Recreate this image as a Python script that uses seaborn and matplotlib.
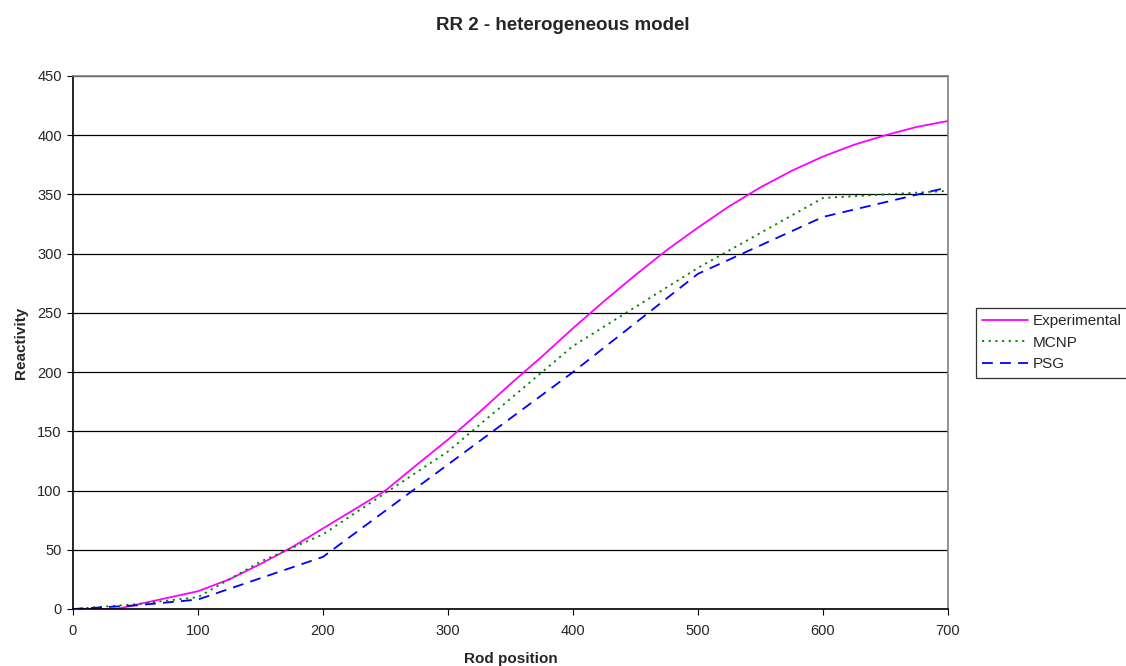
import pandas as pd
import matplotlib
matplotlib.use("Agg")
import matplotlib.pyplot as plt
import seaborn as sns

# data
exp_x = [0, 35, 100, 125, 150, 175, 200, 225, 250, 273, 300, 325, 350, 375, 400,
         425, 450, 475, 500, 525, 550, 575, 600, 625, 650, 675, 700]
exp_y = [0, 0, 15, 25, 38, 52, 68, 84, 100, 120, 143, 166, 190, 213, 237,
         260, 282, 303, 322, 340, 356, 370, 382, 392, 400, 407, 412]

mcnp_x = [0, 50, 100, 150, 200, 300, 400, 500, 600, 700]
mcnp_y = [0, 4, 10, 40, 63, 133, 222, 288, 347, 353]

psg_x = [0, 50, 100, 200, 300, 400, 500, 600, 700]
psg_y = [0, 3, 8, 44, 122, 200, 283, 331, 356]

sns.set_style("white")
plt.rcParams['font.family'] = ['Liberation Sans', 'DejaVu Sans']

df = pd.concat([
    pd.DataFrame({'pos': exp_x, 'val': exp_y, 'serie': 'Experimental'}),
    pd.DataFrame({'pos': mcnp_x, 'val': mcnp_y, 'serie': 'MCNP'}),
    pd.DataFrame({'pos': psg_x, 'val': psg_y, 'serie': 'PSG'}),
])

fig = plt.figure(figsize=(11.26, 6.66), dpi=100)
ax = fig.add_axes([0.0648, 0.0856, 0.7771, 0.8003])

renk = {'Experimental': '#ff00ff', 'MCNP': '#008000', 'PSG': '#0000ff'}
for ad, grup in df.groupby('serie', sort=False):
    sns.lineplot(x='pos', y='val', data=grup, ax=ax, color=renk[ad],
                 linewidth=1.3, label=ad)
    if ad == 'PSG':
        ax.lines[-1].set_dashes((6, 4))
    if ad == 'MCNP':
        ax.lines[-1].set_dashes((1.2, 2.5))

ax.set_xlim(0, 700)
ax.set_ylim(0, 450)
ax.set_xticks(range(0, 701, 100))
ax.set_yticks(range(0, 451, 50))
ax.yaxis.grid(True, color='black', linewidth=0.9)
ax.set_axisbelow(True)
ax.tick_params(axis='both', labelsize=10.5, length=4, direction='out',
               bottom=True, left=True, color='black')
ax.tick_params(axis='x', pad=7)
ax.tick_params(axis='y', pad=4)
for s in ax.spines.values():
    s.set_color('#808080')
    s.set_linewidth(1.2)
ax.spines['left'].set_color('black')
ax.spines['bottom'].set_color('black')

ax.set_xlabel('Rod position', fontsize=11, fontweight='bold', labelpad=10)
ax.set_ylabel('Reactivity', fontsize=11, fontweight='bold', labelpad=7)
fig.suptitle('RR 2 - heterogeneous model', fontsize=13.5, fontweight='bold',
             y=0.975, x=0.5)

leg = ax.legend(loc='upper left', bbox_to_anchor=(976 / 1126, 1 - 308 / 666),
                bbox_transform=fig.transFigure, fontsize=11,
                frameon=True, fancybox=False, shadow=False, borderpad=0.4,
                handlelength=3.0, labelspacing=0.5, handletextpad=0.3,
                borderaxespad=0)
leg.get_frame().set_edgecolor('black')
leg.get_frame().set_linewidth(0.9)

plt.savefig('out.png', dpi=100)
